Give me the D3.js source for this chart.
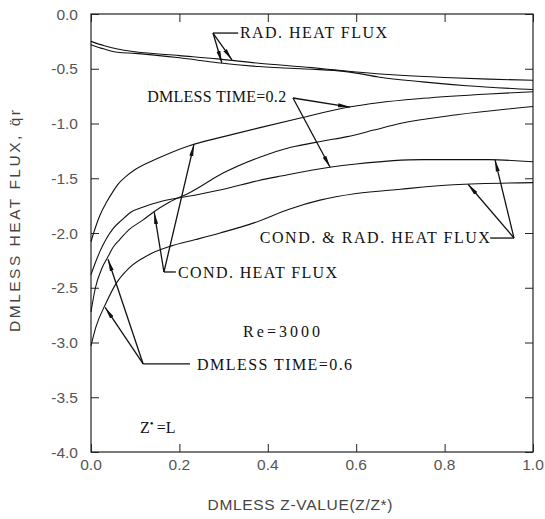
<!DOCTYPE html>
<html><head><meta charset="utf-8">
<script src="https://cdn.jsdelivr.net/npm/d3@7"></script>
<style>body{margin:0;background:#fff}svg{display:block}</style>
</head><body><svg id="c" width="545" height="519"></svg>
<script>
// ---------- data ----------
const xTicks = [0, 0.2, 0.4, 0.6, 0.8, 1.0];
const xTickLabels = ["0.0", "0.2", "0.4", "0.6", "0.8", "1.0"];
const yTicks = [0, -0.5, -1.0, -1.5, -2.0, -2.5, -3.0, -3.5, -4.0];
const yTickLabels = ["0.0", "-0.5", "-1.0", "-1.5", "-2.0", "-2.5", "-3.0", "-3.5", "-4.0"];

// radiative heat flux, t = 0.2 and t = 0.6
const radT02 = [[0,-0.25],[0.03,-0.29],[0.06,-0.32],[0.1,-0.345],[0.2,-0.38],[0.287,-0.41],[0.38,-0.45],[0.5,-0.49],[0.55,-0.51],[0.6,-0.53],[0.7,-0.56],[0.8,-0.58],[0.9,-0.595],[1.0,-0.605]];
const radT06 = [[0,-0.28],[0.03,-0.32],[0.06,-0.35],[0.1,-0.36],[0.2,-0.40],[0.287,-0.445],[0.38,-0.48],[0.5,-0.505],[0.55,-0.515],[0.6,-0.54],[0.65,-0.575],[0.75,-0.62],[0.85,-0.655],[1.0,-0.69]];
// conductive heat flux
const condT02 = [[0,-2.08],[0.01,-1.95],[0.02,-1.84],[0.035,-1.72],[0.05,-1.62],[0.06,-1.56],[0.08,-1.48],[0.1,-1.42],[0.15,-1.32],[0.224,-1.20],[0.3,-1.12],[0.38,-1.04],[0.474,-0.95],[0.584,-0.85],[0.65,-0.81],[0.751,-0.77],[0.9,-0.73],[1.0,-0.71]];
const condT06 = [[0,-2.72],[0.01,-2.5],[0.025,-2.32],[0.038,-2.22],[0.05,-2.13],[0.065,-2.06],[0.086,-1.97],[0.118,-1.88],[0.141,-1.81],[0.177,-1.72],[0.224,-1.63],[0.3,-1.45],[0.38,-1.31],[0.45,-1.22],[0.525,-1.16],[0.58,-1.12],[0.64,-1.06],[0.699,-1.0],[0.828,-0.92],[1.0,-0.845]];
// conductive + radiative heat flux
const totT02 = [[0,-2.38],[0.01,-2.27],[0.02,-2.17],[0.035,-2.05],[0.05,-1.96],[0.07,-1.88],[0.09,-1.81],[0.12,-1.76],[0.16,-1.71],[0.24,-1.65],[0.3,-1.60],[0.38,-1.52],[0.43,-1.48],[0.54,-1.40],[0.6,-1.37],[0.75,-1.33],[0.9,-1.33],[1.0,-1.35]];
const totT06 = [[0,-3.03],[0.011,-2.86],[0.034,-2.64],[0.057,-2.46],[0.086,-2.32],[0.13,-2.2],[0.18,-2.12],[0.237,-2.06],[0.292,-2.0],[0.367,-1.91],[0.45,-1.78],[0.518,-1.70],[0.6,-1.64],[0.7,-1.60],[0.82,-1.56],[1.0,-1.54]];
const series = [radT02, radT06, condT02, condT06, totT02, totT06];

// annotations (data units): label, text anchor point, leader corner, leader end, arrow tips
const annRad   = {text: "RAD. HEAT FLUX", at: [0.337, -0.219], len: 147, corner: [0.276, -0.174], join: [0.333, -0.174], tips: [[0.296, -0.445], [0.319, -0.42]]};
const annT02   = {text: "DMLESS TIME=0.2", at: [0.127, -0.804], len: 139, corner: [0.457, -0.767], join: [0.457, -0.767], tips: [[0.586, -0.85], [0.541, -1.40]]};
const annTot   = {text: "COND. & RAD. HEAT FLUX", at: [0.382, -2.09], len: 230, corner: [0.957, -2.046], join: [0.903, -2.046], tips: [[0.853, -1.555], [0.914, -1.33]]};
const annCond  = {text: "COND. HEAT FLUX", at: [0.197, -2.41], len: 159, corner: [0.165, -2.356], join: [0.192, -2.356], tips: [[0.143, -1.81], [0.233, -1.19]]};
const annT06   = {text: "DMLESS TIME=0.6", at: [0.24, -3.25], len: 155, corner: [0.118, -3.196], join: [0.224, -3.196], tips: [[0.0385, -2.24], [0.032, -2.68]]};
const annotations = [annRad, annT02, annTot, annCond, annT06];
const noteRe = {text: "Re=3000", at: [0.344, -2.95]};
const noteZ = {at: [0.111, -3.83]};

// ---------- drawing ----------
const W = 545, H = 519;
const m = {left: 91, top: 14, right: 12, bottom: 67};
const svg = d3.select("#c");
const x = d3.scaleLinear().domain([0, 1]).range([m.left, W - m.right]);
const y = d3.scaleLinear().domain([0, -4]).range([m.top, H - m.bottom]);
const ink = "#111";
const serif = "'Liberation Serif', 'DejaVu Serif', serif";
const sans = "'Liberation Sans', 'DejaVu Sans', sans-serif";

svg.append("defs").append("marker")
  .attr("id", "ah").attr("viewBox", "0 -3 12 6").attr("refX", 12).attr("refY", 0)
  .attr("markerWidth", 12).attr("markerHeight", 6).attr("markerUnits", "userSpaceOnUse")
  .attr("orient", "auto")
  .append("path").attr("d", "M0,-2L12,0L0,2Z").attr("fill", ink);

// frame
svg.append("rect").attr("x", x(0)).attr("y", y(0)).attr("width", x(1) - x(0)).attr("height", y(-4) - y(0))
  .attr("fill", "none").attr("stroke", "#222").attr("stroke-width", 1.2);

// axes with inward ticks
const tl = 8;
svg.append("g").attr("transform", `translate(${x(0)},0)`)
  .call(d3.axisRight(y).tickValues(yTicks).tickSize(tl).tickFormat(""))
  .call(g => g.select(".domain").remove());
svg.append("g").attr("transform", `translate(${x(1)},0)`)
  .call(d3.axisLeft(y).tickValues(yTicks).tickSize(tl).tickFormat(""))
  .call(g => g.select(".domain").remove());
svg.append("g").attr("transform", `translate(0,${y(-4)})`)
  .call(d3.axisTop(x).tickValues(xTicks).tickSize(tl).tickFormat(""))
  .call(g => g.select(".domain").remove());
svg.append("g").attr("transform", `translate(0,${y(0)})`)
  .call(d3.axisBottom(x).tickValues(xTicks).tickSize(tl).tickFormat(""))
  .call(g => g.select(".domain").remove());
svg.selectAll(".tick line").attr("stroke", "#222").attr("stroke-width", 1);

// tick labels
svg.append("g").selectAll("text").data(yTicks).join("text")
  .attr("x", x(0) - 13).attr("y", d => y(d)).attr("dy", "0.36em")
  .attr("text-anchor", "end").attr("font-family", sans).attr("font-size", 15.5).attr("fill", "#555")
  .text((d, i) => yTickLabels[i]);
svg.append("g").selectAll("text").data(xTicks).join("text")
  .attr("x", d => x(d)).attr("y", y(-4) + 18)
  .attr("text-anchor", "middle").attr("font-family", sans).attr("font-size", 15.5).attr("fill", "#555")
  .text((d, i) => xTickLabels[i]);

// axis titles
svg.append("text").attr("x", 300).attr("y", 510).attr("text-anchor", "middle")
  .attr("font-family", sans).attr("font-size", 15.5).attr("fill", "#444")
  .attr("textLength", 185).attr("lengthAdjust", "spacing")
  .text("DMLESS Z-VALUE(Z/Z*)");
svg.append("text").attr("transform", "translate(20,221) rotate(-90)").attr("text-anchor", "middle")
  .attr("font-family", sans).attr("font-size", 15.5).attr("fill", "#444")
  .attr("textLength", 222).attr("lengthAdjust", "spacing")
  .text("DMLESS HEAT FLUX, q̈r");

// curves
const line = d3.line().x(d => x(d[0])).y(d => y(d[1])).curve(d3.curveMonotoneX);
svg.append("g").selectAll("path").data(series).join("path")
  .attr("d", line).attr("fill", "none").attr("stroke", ink).attr("stroke-width", 1.1);

// annotations
const ag = svg.append("g");
annotations.forEach(a => {
  ag.append("text").attr("x", x(a.at[0])).attr("y", y(a.at[1]))
    .attr("font-family", serif).attr("font-size", 16).attr("fill", ink)
    .attr("textLength", a.len).attr("lengthAdjust", "spacing").text(a.text);
  ag.append("line").attr("x1", x(a.join[0])).attr("y1", y(a.join[1])).attr("x2", x(a.corner[0])).attr("y2", y(a.corner[1]))
    .attr("stroke", ink).attr("stroke-width", 1.3);
  a.tips.forEach(t => {
    ag.append("line").attr("x1", x(a.corner[0])).attr("y1", y(a.corner[1])).attr("x2", x(t[0])).attr("y2", y(t[1]))
      .attr("stroke", ink).attr("stroke-width", 1.3).attr("marker-end", "url(#ah)");
  });
});
ag.append("text").attr("x", x(noteRe.at[0])).attr("y", y(noteRe.at[1]))
  .attr("font-family", serif).attr("font-size", 16).attr("fill", ink)
  .attr("textLength", 77).attr("lengthAdjust", "spacing").text(noteRe.text);
const zt = ag.append("text").attr("x", x(noteZ.at[0])).attr("y", y(noteZ.at[1]))
  .attr("font-family", serif).attr("font-size", 16).attr("fill", ink);
zt.append("tspan").text("Z");
zt.append("tspan").attr("dy", -6).attr("font-size", 11).text("•");
zt.append("tspan").attr("dy", 6).attr("dx", 3).text("=L");
</script></body></html>
